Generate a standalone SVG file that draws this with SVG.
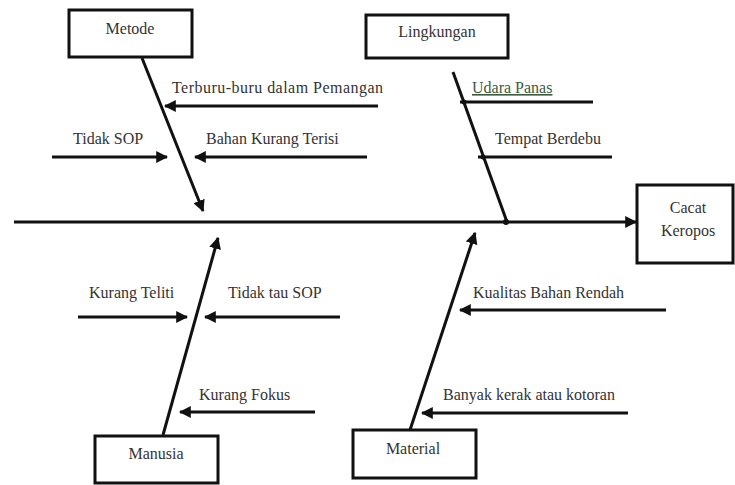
<svg xmlns="http://www.w3.org/2000/svg" width="735" height="485" viewBox="0 0 735 485">
<defs>
<style>
.box{fill:#fff;stroke:#111;stroke-width:3}
.ln{stroke:#111;stroke-width:3;fill:none}
.t{font-family:"Liberation Serif","Times New Roman",serif;font-size:16px;fill:#333}
.c{text-anchor:middle}
</style>
<marker id="ah" viewBox="0 0 10 10" refX="9" refY="5" markerWidth="4" markerHeight="4" orient="auto" markerUnits="strokeWidth">
<path d="M0,0 L10,5 L0,10 Z" fill="#111"/>
</marker>
</defs>
<rect width="735" height="485" fill="#fff"/>
<g id="connectors">
<line class="ln" x1="14" y1="222" x2="636" y2="222" marker-end="url(#ah)"/>
<line class="ln" x1="142" y1="58" x2="203" y2="211" marker-end="url(#ah)"/>
<line class="ln" x1="453" y1="72" x2="507" y2="222"/>
<circle cx="506" cy="222" r="3" fill="#111"/>
<line class="ln" x1="163" y1="435" x2="218" y2="238" marker-end="url(#ah)"/>
<line class="ln" x1="410" y1="430" x2="475" y2="233" marker-end="url(#ah)"/>
<line class="ln" x1="378" y1="106" x2="165" y2="106" marker-end="url(#ah)"/>
<line class="ln" x1="52" y1="157" x2="167" y2="157" marker-end="url(#ah)"/>
<line class="ln" x1="367" y1="157" x2="195" y2="157" marker-end="url(#ah)"/>
<line class="ln" x1="593" y1="102" x2="460" y2="102"/>
<circle cx="464" cy="102" r="2.5" fill="#111"/>
<line class="ln" x1="612" y1="157" x2="478" y2="157"/>
<circle cx="483" cy="157" r="2.5" fill="#111"/>
<line class="ln" x1="78" y1="317" x2="187" y2="317" marker-end="url(#ah)"/>
<line class="ln" x1="340" y1="317" x2="205" y2="317" marker-end="url(#ah)"/>
<line class="ln" x1="315" y1="412" x2="180" y2="412" marker-end="url(#ah)"/>
<line class="ln" x1="666" y1="310" x2="460" y2="310" marker-end="url(#ah)"/>
<line class="ln" x1="628" y1="413" x2="422" y2="413" marker-end="url(#ah)"/>
</g>
<g id="metode">
<rect class="box" x="69" y="10" width="123" height="47"/>
<text class="t c" x="130" y="34">Metode</text>
</g>
<g id="lingkungan">
<rect class="box" x="366" y="15" width="142" height="43"/>
<text class="t c" x="437" y="37">Lingkungan</text>
</g>
<g id="cacat">
<rect class="box" x="637" y="185" width="96" height="78"/>
<text class="t c" x="688" y="213">Cacat</text>
<text class="t c" x="688" y="236">Keropos</text>
</g>
<g id="manusia">
<rect class="box" x="95" y="436" width="123" height="47"/>
<text class="t c" x="156" y="459">Manusia</text>
</g>
<g id="material">
<rect class="box" x="353" y="430" width="123" height="48"/>
<text class="t c" x="413" y="454">Material</text>
</g>
<g id="labels">
<text class="t" x="172" y="93" textLength="211">Terburu-buru dalam Pemangan</text>
<text class="t" x="73" y="144">Tidak SOP</text>
<text class="t" x="206" y="144">Bahan Kurang Terisi</text>
<text class="t" x="472" y="93" style="fill:#3d5a3d;text-decoration:underline">Udara  Panas</text>
<text class="t" x="495" y="144">Tempat Berdebu</text>
<text class="t" x="89" y="298">Kurang Teliti</text>
<text class="t" x="228" y="298">Tidak tau SOP</text>
<text class="t" x="199" y="400">Kurang Fokus</text>
<text class="t" x="473" y="298">Kualitas Bahan Rendah</text>
<text class="t" x="443" y="400">Banyak kerak atau kotoran</text>
</g>
</svg>
